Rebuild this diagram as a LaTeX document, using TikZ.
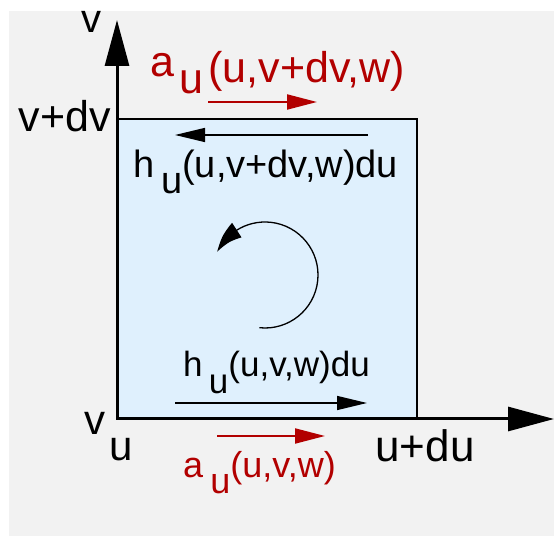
\documentclass[tikz,border=0pt]{standalone}
\usepackage{fontspec}
\setmainfont{Liberation Sans}
\usetikzlibrary{arrows.meta,bending}
\definecolor{bggray}{RGB}{242,242,242}
\definecolor{cellblue}{RGB}{223,240,253}
\definecolor{fluxred}{RGB}{178,0,0}
\newcommand{\fs}[1]{\fontsize{#1}{#1}\selectfont}
\newcommand{\lowidx}[2][0.42em]{\raisebox{-#1}{#2}}

\begin{document}
\begin{tikzpicture}[x=1pt,y=1pt,
  axis/.style={line width=3pt,-{Triangle[length=46pt,width=24pt]}},
  flux/.style={line width=2pt,fluxred,-{Triangle[length=30pt,width=15pt]}},
  field/.style={line width=1.5pt,-{Triangle[length=30pt,width=14pt]}},
  spin/.style={line width=1.3pt,-{Triangle[length=30pt,width=17pt,bend]}},
  lbl/.style={inner sep=0pt}]
\useasboundingbox (-117,-118) rectangle (437,419);
\fill[bggray] (-108,-117) rectangle (437,408);
\filldraw[fill=cellblue,line width=1.5pt] (0,0) rectangle (300,300);

\coordinate (O) at (0,0);
\coordinate (vtip) at (0,399);
\coordinate (utip) at (437,0);
\draw[axis] (O) -- (vtip);
\draw[axis] (O) -- (utip);

% axis labels
\node[lbl, anchor=base, font=\fs{40}] (v) at (-25,386) {v};
\node[lbl, anchor=base east, font=\fs{43}] (vdv) at (-6,287) {v+dv};
\node[lbl, anchor=base, font=\fs{42}] (v0) at (-22,-16) {v};
\node[lbl, anchor=base, font=\fs{42}] (u0) at (4,-42) {u};
\node[lbl, anchor=base, font=\fs{44}] (udu) at (308,-43) {u+du};

% fluxes
\coordinate (aTopA) at (91,317);
\coordinate (aTopB) at (200,317);
\coordinate (hTopA) at (251,284);
\coordinate (hTopB) at (58,284);
\coordinate (hBotA) at (58,16);
\coordinate (hBotB) at (250,16);
\coordinate (aBotA) at (100,-17);
\coordinate (aBotB) at (208,-17);
\draw[flux] (aTopA) -- (aTopB);
\draw[field] (hTopA) -- (hTopB);
\draw[field] (hBotA) -- (hBotB);
\draw[flux] (aBotA) -- (aBotB);

\node[lbl, anchor=base west, text=fluxred, font=\fs{43}] (aTop) at (33,336)
  {\raisebox{0.14em}{a}\hspace{0.12em}\lowidx[0.24em]{u}\hspace{0.12em}(u,v+dv,w)};
\node[lbl, anchor=base west, font=\fs{38}] (hTop) at (16,241)
  {h\hspace{0.18em}\lowidx{u}(u,v+dv,w)du};
\node[lbl, anchor=base west, font=\fs{35}] (hBot) at (66,42)
  {h\hspace{0.18em}\lowidx[0.48em]{u}(u,v,w)du};
\node[lbl, anchor=base west, text=fluxred, font=\fs{36}] (aBot) at (66,-59)
  {a\hspace{0.2em}\lowidx{u}(u,v,w)};

% circulation
\coordinate (spinA) at ([shift={(-96:53)}]148,144);
\draw[spin] (spinA) arc[start angle=-96, end angle=154, radius=53];
\end{tikzpicture}
\end{document}
